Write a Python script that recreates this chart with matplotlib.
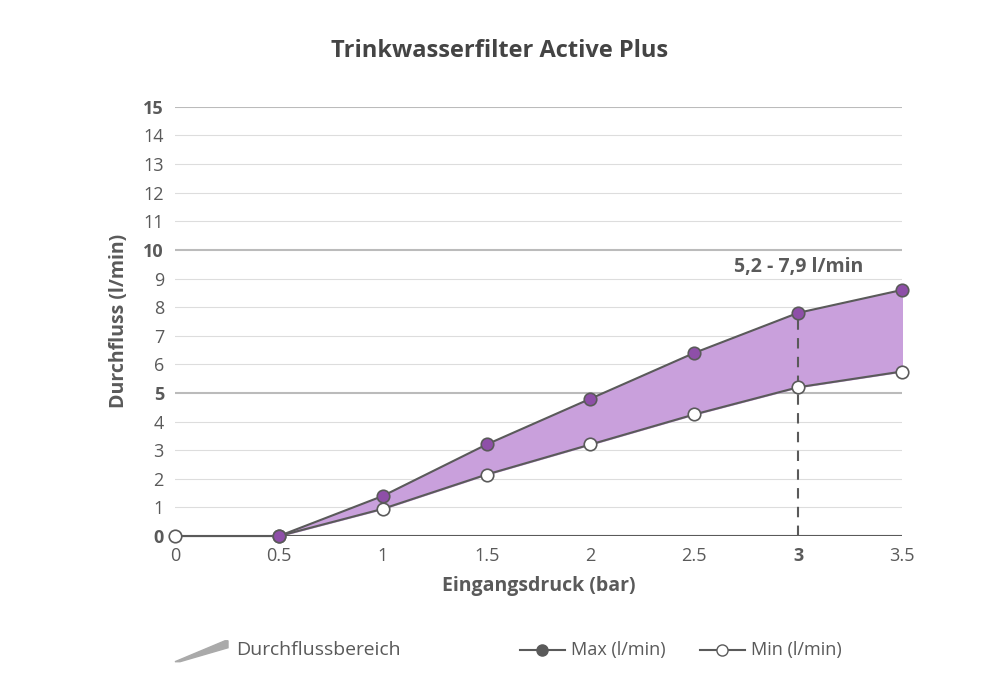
import numpy as np
import matplotlib.pyplot as plt
from matplotlib.lines import Line2D
from matplotlib.patches import Polygon

plt.rcParams["font.family"] = "Open Sans"

druck = [0, 0.5, 1, 1.5, 2, 2.5, 3, 3.5]
max_fluss = [None, 0, 1.4, 3.2, 4.8, 6.4, 7.8, 8.6]
min_fluss = [0, 0, 0.95, 2.15, 3.2, 4.25, 5.2, 5.75]
x_ticks = [0, 0.5, 1, 1.5, 2, 2.5, 3, 3.5]
x_labels = ["0", "0.5", "1", "1.5", "2", "2.5", "3", "3.5"]

grey = "#5a5a5a"
purple = "#8e4fa8"
fill = "#c9a0dc"

fig = plt.figure(figsize=(10, 6.98), dpi=100)
ax = fig.add_axes([0.175, 0.232, 0.727, 0.615])

xm = druck[1:]
ym = max_fluss[1:]
ax.fill_between(xm, min_fluss[1:], ym, color=fill, zorder=1)
ax.plot(druck, min_fluss, color=grey, lw=1.5, marker="o", ms=9,
        mfc="white", mec=grey, mew=1.2, zorder=3, clip_on=False)
ax.plot(xm, ym, color=grey, lw=1.5, marker="o", ms=9,
        mfc=purple, mec=grey, mew=1.2, zorder=4, clip_on=False)
ax.plot([3, 3], [0, 7.8], color=grey, lw=1.5, ls=(0, (5, 4)), zorder=2)
ax.text(3.0, 9.4, "5,2 - 7,9 l/min", ha="center", va="center",
        fontsize=14, fontweight="bold", color=grey)

ax.set_xlim(0, 3.5)
ax.set_ylim(0, 15)
ax.set_yticks(range(16))
ax.set_xticks(x_ticks)
ax.set_xticklabels(x_labels)
for v in range(16):
    ax.axhline(v, color="#bbbbbb" if v % 5 == 0 and v else "#dddddd",
               lw=1.5 if v % 5 == 0 else 0.8, zorder=0)
ax.axhline(0, color=grey, lw=1.5, zorder=2)
for s in ax.spines.values():
    s.set_visible(False)
ax.tick_params(length=0, labelsize=13, colors=grey, pad=8)
for lab in ax.get_yticklabels():
    if int(lab.get_text()) % 5 == 0:
        lab.set_fontweight("bold")
ax.get_xticklabels()[6].set_fontweight("bold")
ax.set_xlabel("Eingangsdruck (bar)", fontsize=14, fontweight="bold", color=grey, labelpad=8)
ax.set_ylabel("Durchfluss (l/min)", fontsize=14, fontweight="bold", color=grey, labelpad=10)
fig.text(0.5, 0.927, "Trinkwasserfilter Active Plus", ha="center", va="center",
         fontsize=17, fontweight="bold", color="#444444")

# Legende
fig.patches.append(Polygon([[0.175, 0.052], [0.225, 0.082], [0.228, 0.082], [0.228, 0.072], [0.18, 0.052]],
                           closed=True, transform=fig.transFigure, color="#aaaaaa"))
fig.text(0.236, 0.069, "Durchflussbereich", fontsize=14, color=grey, va="center")
fig.add_artist(Line2D([0.52, 0.565], [0.069, 0.069], transform=fig.transFigure, color=grey, lw=1.5))
fig.add_artist(Line2D([0.542], [0.069], transform=fig.transFigure, marker="o", ms=8, mfc=grey, mec=grey))
fig.text(0.571, 0.069, "Max (l/min)", fontsize=13, color=grey, va="center")
fig.add_artist(Line2D([0.7, 0.745], [0.069, 0.069], transform=fig.transFigure, color=grey, lw=1.5))
fig.add_artist(Line2D([0.722], [0.069], transform=fig.transFigure, marker="o", ms=8, mfc="white", mec=grey))
fig.text(0.751, 0.069, "Min (l/min)", fontsize=13, color=grey, va="center")

fig.savefig("out.png", dpi=100, facecolor="white")
